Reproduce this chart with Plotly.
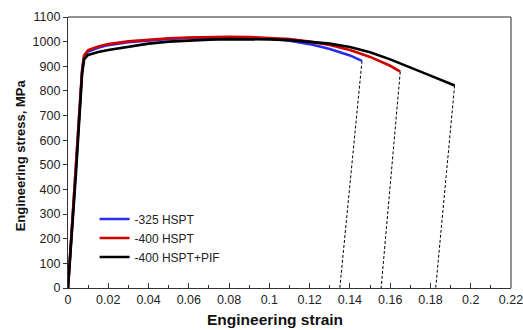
import plotly.graph_objects as go

# Data (engineering strain, engineering stress MPa)
blue_x = [0, 0.004, 0.007, 0.008, 0.010, 0.015, 0.020, 0.030, 0.040, 0.050, 0.060, 0.070, 0.080, 0.090, 0.100, 0.110, 0.120, 0.130, 0.140, 0.146]
blue_y = [0, 480, 880, 940, 960, 975, 986, 998, 1006, 1011, 1015, 1017, 1018, 1017, 1013, 1004, 990, 970, 944, 922]
red_x = [0, 0.004, 0.007, 0.008, 0.010, 0.015, 0.020, 0.030, 0.040, 0.050, 0.060, 0.070, 0.080, 0.090, 0.100, 0.110, 0.120, 0.130, 0.140, 0.150, 0.160, 0.165]
red_y = [0, 480, 885, 945, 966, 980, 990, 1001, 1009, 1014, 1017, 1019, 1020, 1019, 1016, 1010, 1000, 986, 966, 938, 902, 878]
black_x = [0, 0.004, 0.007, 0.008, 0.010, 0.015, 0.020, 0.030, 0.040, 0.050, 0.060, 0.070, 0.080, 0.090, 0.100, 0.110, 0.120, 0.130, 0.140, 0.150, 0.160, 0.170, 0.180, 0.192]
black_y = [0, 470, 870, 928, 946, 958, 966, 980, 992, 1000, 1005, 1008, 1010, 1010, 1009, 1006, 1000, 992, 978, 957, 928, 896, 862, 822]
names = ["-325 HSPT", "-400 HSPT", "-400 HSPT+PIF"]
colors = ["#2b2bf0", "#d00000", "#000000"]
# Unloading (dashed) lines: end point of curve -> final strain at zero stress
unload_x0 = [0.146, 0.165, 0.192]
unload_y0 = [922, 878, 822]
unload_x1 = [0.135, 0.1555, 0.1826]
x_ticks = [0, 0.02, 0.04, 0.06, 0.08, 0.1, 0.12, 0.14, 0.16, 0.18, 0.2, 0.22]
x_tick_text = ["0", "0.02", "0.04", "0.06", "0.08", "0.1", "0.12", "0.14", "0.16", "0.18", "0.2", "0.22"]
y_ticks = list(range(0, 1101, 100))
x_title = "Engineering strain"
y_title = "Engineering stress, MPa"

fig = go.Figure()
for i in range(3):
    fig.add_trace(go.Scatter(x=[unload_x0[i], unload_x1[i]], y=[unload_y0[i], 0], mode="lines",
                             line=dict(color="#000000", width=1, dash="3px,2px"), showlegend=False,
                             hoverinfo="skip"))
series = [(blue_x, blue_y), (red_x, red_y), (black_x, black_y)]
for (xs, ys), n, c in zip(series, names, colors):
    fig.add_trace(go.Scatter(x=xs, y=ys, mode="lines", name=n, line=dict(color=c, width=2.6)))

# grey frame on top and right of the plot area
fig.add_shape(type="line", xref="paper", yref="paper", x0=0, y0=1, x1=1, y1=1,
              line=dict(color="#6e6e6e", width=1.5), layer="above")
fig.add_shape(type="line", xref="paper", yref="paper", x0=1, y0=0, x1=1, y1=1,
              line=dict(color="#6e6e6e", width=1.5), layer="above")

fig.add_annotation(text="<b>" + x_title + "</b>", xref="paper", yref="paper", x=0.467, y=-0.118,
                   xanchor="center", yanchor="middle", showarrow=False,
                   font=dict(size=15.5, color="#111111"))
fig.add_annotation(text="<b>" + y_title + "</b>", xref="paper", yref="paper", x=-0.108, y=0.49,
                   xanchor="center", yanchor="middle", showarrow=False, textangle=-90,
                   font=dict(size=13, color="#111111"))

fig.update_layout(
    width=523, height=330,
    margin=dict(l=68, r=12, t=17, b=42),
    paper_bgcolor="white", plot_bgcolor="white",
    font=dict(family="Arial, Liberation Sans, sans-serif", size=12.5, color="#222222"),
    showlegend=True,
    legend=dict(x=0.06, y=0.308, xanchor="left", yanchor="top", bgcolor="rgba(0,0,0,0)",
                font=dict(size=12, color="#222222"), itemwidth=30, tracegroupgap=0),
    xaxis=dict(range=[0, 0.22], tickvals=x_ticks, ticktext=x_tick_text, ticks="inside", ticklen=5,
               tickcolor="#333333", showgrid=False, zeroline=False, showline=True, linecolor="#333333",
               linewidth=1.2, tickfont=dict(size=12.5), automargin=False, ticklabeloverflow="allow",
               minor=dict(dtick=0.01, ticks="inside", ticklen=3, tickcolor="#333333", showgrid=False)),
    yaxis=dict(range=[0, 1100], tickvals=y_ticks, ticks="outside", ticklen=4, tickcolor="#333333",
               showgrid=False, zeroline=False, showline=True, linecolor="#333333", linewidth=1.2,
               tickfont=dict(size=12.5), automargin=False, ticklabeloverflow="allow"),
)

fig.write_html("out.html")
